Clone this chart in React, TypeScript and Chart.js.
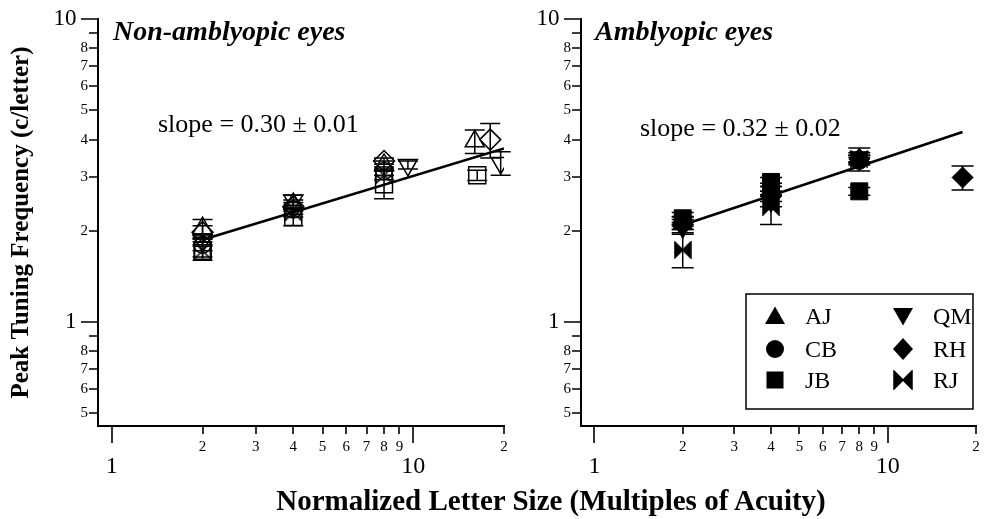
import React, { useEffect, useRef } from 'react';
import { Chart, registerables } from 'chart.js';

Chart.register(...registerables);

const SERIF = '"Liberation Serif", "Times New Roman", Times, serif';

// ---- axes ----
const X_TICKS = [1, 2, 3, 4, 5, 6, 7, 8, 9, 10, 20];
const X_TICK_LABELS = ['1', '2', '3', '4', '5', '6', '7', '8', '9', '10', '2'];
const X_MAJOR = [1, 10];
const Y_TICKS = [0.5, 0.6, 0.7, 0.8, 0.9, 1, 2, 3, 4, 5, 6, 7, 8, 9, 10];
const Y_TICK_LABELS = ['5', '6', '7', '8', '', '1', '2', '3', '4', '5', '6', '7', '8', '', '10'];
const Y_MAJOR = [1, 10];
const X_MIN = 0.9;
const X_MAX = 20;
const Y_MIN = 0.454;
const Y_MAX = 10;

const SUBJECTS = ['AJ', 'CB', 'JB', 'QM', 'RH', 'RJ'];
const SYMBOLS = ['triangle', 'circle', 'square', 'triangleDown', 'diamond', 'bowtie'];

// ---- Non-amblyopic eyes (open symbols) ----
const NA_AJ_X = [2, 4, 8, 16];
const NA_AJ_Y = [2.04, 2.45, 3.3, 3.95];
const NA_AJ_ERR = [0.14, 0.08, 0.1, 0.35];
const NA_CB_X = [2, 4, 8];
const NA_CB_Y = [1.8, 2.35, 3.15];
const NA_CB_ERR = [0.08, 0.08, 0.1];
const NA_JB_X = [2, 4, 8, 16.3];
const NA_JB_Y = [1.72, 2.22, 2.85, 3.05];
const NA_JB_ERR = [0.08, 0.14, 0.3, 0.12];
const NA_QM_X = [2, 4, 9.6, 19.5];
const NA_QM_Y = [1.86, 2.52, 3.3, 3.35];
const NA_QM_ERR = [0.08, 0.1, 0.1, 0.3];
const NA_RH_X = [2, 4, 8, 18];
const NA_RH_Y = [1.98, 2.4, 3.4, 4.0];
const NA_RH_ERR = [0.1, 0.08, 0.08, 0.52];
const NA_RJ_X = [2, 4, 8];
const NA_RJ_Y = [1.72, 2.3, 3.05];
const NA_RJ_ERR = [0.12, 0.08, 0.1];
const NA_FIT_X = [2, 20];
const NA_FIT_Y = [1.87, 3.74];

// ---- Amblyopic eyes (filled symbols) ----
const AM_AJ_X = [2, 4, 8];
const AM_AJ_Y = [2.12, 2.75, 3.45];
const AM_AJ_ERR = [0.1, 0.12, 0.1];
const AM_CB_X = [2, 4, 8];
const AM_CB_Y = [2.15, 2.7, 3.4];
const AM_CB_ERR = [0.08, 0.1, 0.1];
const AM_JB_X = [2, 4, 8];
const AM_JB_Y = [2.2, 2.9, 2.7];
const AM_JB_ERR = [0.1, 0.1, 0.08];
const AM_QM_X = [2, 4, 8];
const AM_QM_Y = [2.05, 2.5, 3.5];
const AM_QM_ERR = [0.08, 0.1, 0.12];
const AM_RH_X = [2, 4, 8, 18];
const AM_RH_Y = [2.1, 2.6, 3.45, 3.0];
const AM_RH_ERR = [0.08, 0.1, 0.1, 0.27];
const AM_RJ_X = [2, 4, 8];
const AM_RJ_Y = [1.73, 2.4, 3.45];
const AM_RJ_ERR = [0.22, 0.3, 0.3];
const AM_FIT_X = [2, 18];
const AM_FIT_Y = [2.09, 4.24];

const NA_SERIES = [
  { x: NA_AJ_X, y: NA_AJ_Y, err: NA_AJ_ERR },
  { x: NA_CB_X, y: NA_CB_Y, err: NA_CB_ERR },
  { x: NA_JB_X, y: NA_JB_Y, err: NA_JB_ERR },
  { x: NA_QM_X, y: NA_QM_Y, err: NA_QM_ERR },
  { x: NA_RH_X, y: NA_RH_Y, err: NA_RH_ERR },
  { x: NA_RJ_X, y: NA_RJ_Y, err: NA_RJ_ERR },
];
const AM_SERIES = [
  { x: AM_AJ_X, y: AM_AJ_Y, err: AM_AJ_ERR },
  { x: AM_CB_X, y: AM_CB_Y, err: AM_CB_ERR },
  { x: AM_JB_X, y: AM_JB_Y, err: AM_JB_ERR },
  { x: AM_QM_X, y: AM_QM_Y, err: AM_QM_ERR },
  { x: AM_RH_X, y: AM_RH_Y, err: AM_RH_ERR },
  { x: AM_RJ_X, y: AM_RJ_Y, err: AM_RJ_ERR },
];

function makeBowtie(filled: boolean, size: number) {
  const c = document.createElement('canvas');
  c.width = size;
  c.height = size;
  const g = c.getContext('2d') as CanvasRenderingContext2D;
  const m = 1;
  const s = size - 1;
  const h = size / 2;
  g.beginPath();
  g.moveTo(m, m);
  g.lineTo(h, h);
  g.lineTo(m, s);
  g.closePath();
  g.moveTo(s, m);
  g.lineTo(h, h);
  g.lineTo(s, s);
  g.closePath();
  if (filled) {
    g.fillStyle = '#000';
    g.fill();
  }
  g.lineWidth = 1.5;
  g.strokeStyle = '#000';
  g.stroke();
  return c;
}

function pointOpts(sym: string, bowtie: any) {
  switch (sym) {
    case 'triangle':
      return { pointStyle: 'triangle', pointRadius: 11, pointRotation: 0 };
    case 'triangleDown':
      return { pointStyle: 'triangle', pointRadius: 11, pointRotation: 180 };
    case 'circle':
      return { pointStyle: 'circle', pointRadius: 8.5, pointRotation: 0 };
    case 'square':
      return { pointStyle: 'rect', pointRadius: 12, pointRotation: 0 };
    case 'diamond':
      return { pointStyle: 'rectRot', pointRadius: 10.5, pointRotation: 0 };
    default:
      return { pointStyle: bowtie, pointRadius: 9, pointRotation: 0 };
  }
}

function drawLegendSymbol(ctx: CanvasRenderingContext2D, sym: string, cx: number, cy: number, bowtie: any) {
  ctx.beginPath();
  if (sym === 'triangle') {
    ctx.moveTo(cx, cy - 9.5);
    ctx.lineTo(cx + 10, cy + 8);
    ctx.lineTo(cx - 10, cy + 8);
    ctx.closePath();
  } else if (sym === 'triangleDown') {
    ctx.moveTo(cx - 10, cy - 8);
    ctx.lineTo(cx + 10, cy - 8);
    ctx.lineTo(cx, cy + 9.5);
    ctx.closePath();
  } else if (sym === 'circle') {
    ctx.arc(cx, cy, 9, 0, Math.PI * 2);
  } else if (sym === 'square') {
    ctx.rect(cx - 8.5, cy - 8.5, 17, 17);
  } else if (sym === 'diamond') {
    ctx.moveTo(cx, cy - 11);
    ctx.lineTo(cx + 10, cy);
    ctx.lineTo(cx, cy + 11);
    ctx.lineTo(cx - 10, cy);
    ctx.closePath();
  } else {
    ctx.drawImage(bowtie, cx - 10, cy - 10, 20, 20);
    return;
  }
  ctx.fill();
}

function buildConfig(p: any) {
  const datasets: any[] = p.series.map((s: any, i: number) => ({
    label: SUBJECTS[i],
    data: s.x.map((x: number, j: number) => ({ x, y: s.y[j], e: s.err[j] })),
    showLine: false,
    ...pointOpts(SYMBOLS[i], p.bowtie),
    pointBackgroundColor: p.filled ? '#000' : 'rgba(0,0,0,0)',
    pointBorderColor: '#000',
    pointBorderWidth: p.filled ? 1 : 1.5,
    errorBars: true,
  }));
  datasets.push({
    label: 'fit',
    data: p.fitX.map((x: number, j: number) => ({ x, y: p.fitY[j] })),
    showLine: true,
    pointRadius: 0,
    borderColor: '#000',
    borderWidth: 2.6,
    fill: false,
  });

  const decor = {
    id: 'decor',
    afterDatasetsDraw(chart: any) {
      const ctx = chart.ctx;
      const xs = chart.scales.x;
      const ys = chart.scales.y;
      ctx.save();
      ctx.strokeStyle = '#000';
      ctx.lineWidth = 1.5;
      chart.data.datasets.forEach((ds: any) => {
        if (!ds.errorBars) return;
        ds.data.forEach((pt: any) => {
          if (!pt.e) return;
          const px = xs.getPixelForValue(pt.x);
          const top = ys.getPixelForValue(pt.y + pt.e);
          const bot = ys.getPixelForValue(pt.y - pt.e);
          const cw = p.capHalf;
          ctx.beginPath();
          ctx.moveTo(px, top);
          ctx.lineTo(px, bot);
          ctx.moveTo(px - cw, top);
          ctx.lineTo(px + cw, top);
          ctx.moveTo(px - cw, bot);
          ctx.lineTo(px + cw, bot);
          ctx.stroke();
        });
      });
      ctx.restore();
    },
    afterDraw(chart: any) {
      const ctx = chart.ctx;
      const ca = chart.chartArea;
      const xs = chart.scales.x;
      const ys = chart.scales.y;
      ctx.save();
      ctx.strokeStyle = '#000';
      ctx.lineWidth = 1.6;
      ctx.beginPath();
      X_TICKS.forEach((v) => {
        const px = Math.round(xs.getPixelForValue(v));
        const len = X_MAJOR.includes(v) ? 17 : 8;
        ctx.moveTo(px, ca.bottom);
        ctx.lineTo(px, ca.bottom + len);
      });
      Y_TICKS.forEach((v) => {
        const py = Math.round(ys.getPixelForValue(v));
        const len = Y_MAJOR.includes(v) ? 17 : 9;
        ctx.moveTo(ca.left, py);
        ctx.lineTo(ca.left - len, py);
      });
      ctx.stroke();

      ctx.fillStyle = '#000';
      ctx.textAlign = 'left';
      ctx.textBaseline = 'alphabetic';
      ctx.font = `italic bold 28px ${SERIF}`;
      ctx.fillText(p.title, ca.left + p.titleDx, 40);
      ctx.font = `26px ${SERIF}`;
      ctx.fillText(p.slope, ca.left + p.slopeDx, p.slopeBaseline);

      if (p.legend) {
        const bx = ca.left + 165;
        const by = 294;
        const bw = 227;
        const bh = 115;
        ctx.lineWidth = 1.5;
        ctx.strokeRect(bx, by, bw, bh);
        const rows = [316, 349, 380];
        const colX = [bx + 29, bx + 157];
        ctx.font = `24px ${SERIF}`;
        SUBJECTS.forEach((name, i) => {
          const col = Math.floor(i / 3);
          const row = i % 3;
          const cx = colX[col];
          const cy = rows[row];
          drawLegendSymbol(ctx, SYMBOLS[i], cx, cy, p.bowtieLegend);
          ctx.fillText(name, cx + 30, cy + 7.5);
        });
      }
      ctx.restore();
    },
  };

  return {
    type: 'scatter',
    data: { datasets },
    plugins: [decor],
    options: {
      animation: false,
      responsive: false,
      events: [],
      layout: { padding: { left: 0, top: 19, right: p.padRight, bottom: 0 } },
      plugins: { legend: { display: false }, tooltip: { enabled: false } },
      scales: {
        x: {
          type: 'logarithmic',
          min: X_MIN,
          max: X_MAX,
          bounds: 'data',
          afterBuildTicks: (s: any) => {
            s.ticks = X_TICKS.map((v) => ({ value: v }));
          },
          afterFit: (s: any) => {
            s.height = 93;
            s.paddingLeft = 0;
            s.paddingRight = 0;
          },
          grid: { display: false, drawTicks: false },
          border: { display: true, color: '#000', width: 2 },
          ticks: {
            autoSkip: false,
            maxRotation: 0,
            minRotation: 0,
            padding: 12,
            color: '#000',
            callback: (value: number, index: number) => {
              const lbl = X_TICK_LABELS[index];
              return X_MAJOR.includes(value) ? ['', lbl] : lbl;
            },
            font: (c: any) =>
              c.tick && X_MAJOR.includes(c.tick.value)
                ? { family: SERIF, size: 24, lineHeight: '19px' }
                : { family: SERIF, size: 15, lineHeight: '18px' },
          },
        },
        y: {
          type: 'logarithmic',
          min: Y_MIN,
          max: Y_MAX,
          bounds: 'data',
          afterBuildTicks: (s: any) => {
            s.ticks = Y_TICKS.map((v) => ({ value: v }));
          },
          afterFit: (s: any) => {
            s.width = p.yAxisWidth;
            s.paddingTop = 0;
            s.paddingBottom = 0;
          },
          grid: { display: false, drawTicks: false },
          border: { display: true, color: '#000', width: 2 },
          title: {
            display: !!p.yTitle,
            text: p.yTitle || '',
            color: '#000',
            font: { family: SERIF, size: 25, weight: 'bold' },
            padding: { top: 7, bottom: 0 },
          },
          ticks: {
            autoSkip: false,
            padding: 10,
            color: '#000',
            callback: (value: number, index: number) => {
              const lbl = Y_TICK_LABELS[index];
              return Y_MAJOR.includes(value) ? lbl + '\u2002' : lbl;
            },
            font: (c: any) =>
              c.tick && Y_MAJOR.includes(c.tick.value)
                ? { family: SERIF, size: 23 }
                : { family: SERIF, size: 15 },
          },
        },
      },
    },
  } as any;
}

export default function App() {
  const leftRef = useRef<HTMLCanvasElement>(null);
  const rightRef = useRef<HTMLCanvasElement>(null);

  useEffect(() => {
    const bowOpen = makeBowtie(false, 18);
    const bowFill = makeBowtie(true, 18);
    const bowLegend = makeBowtie(true, 20);
    const left = new Chart(
      leftRef.current as HTMLCanvasElement,
      buildConfig({
        series: NA_SERIES,
        filled: false,
        bowtie: bowOpen,
        bowtieLegend: bowLegend,
        fitX: NA_FIT_X,
        fitY: NA_FIT_Y,
        yAxisWidth: 98,
        padRight: 36,
        title: 'Non-amblyopic eyes',
        titleDx: 15,
        slope: 'slope = 0.30 \u00B1 0.01',
        slopeDx: 60,
        slopeBaseline: 132,
        yTitle: 'Peak Tuning Frequency (c/letter)',
        legend: false,
        capHalf: 10,
      })
    );
    const right = new Chart(
      rightRef.current as HTMLCanvasElement,
      buildConfig({
        series: AM_SERIES,
        filled: true,
        bowtie: bowFill,
        bowtieLegend: bowLegend,
        fitX: AM_FIT_X,
        fitY: AM_FIT_Y,
        yAxisWidth: 61,
        padRight: 3,
        title: 'Amblyopic eyes',
        titleDx: 14,
        slope: 'slope = 0.32 \u00B1 0.02',
        slopeDx: 59,
        slopeBaseline: 136,
        yTitle: '',
        legend: true,
        capHalf: 11,
      })
    );
    return () => {
      left.destroy();
      right.destroy();
    };
  }, []);

  return (
    <div
      style={{
        position: 'absolute',
        left: 0,
        top: 0,
        width: 989,
        height: 519,
        background: '#fff',
        overflow: 'hidden',
      }}
    >
      <canvas
        ref={leftRef}
        width={540}
        height={519}
        style={{ position: 'absolute', left: 0, top: 0, width: 540, height: 519 }}
      />
      <canvas
        ref={rightRef}
        width={469}
        height={519}
        style={{ position: 'absolute', left: 520, top: 0, width: 469, height: 519 }}
      />
      <div
        style={{
          position: 'absolute',
          left: 251,
          top: 486,
          width: 600,
          textAlign: 'center',
          fontFamily: SERIF,
          fontWeight: 'bold',
          fontSize: 29,
          lineHeight: '29px',
          whiteSpace: 'nowrap',
          color: '#000',
        }}
      >
        Normalized Letter Size (Multiples of Acuity)
      </div>
    </div>
  );
}
